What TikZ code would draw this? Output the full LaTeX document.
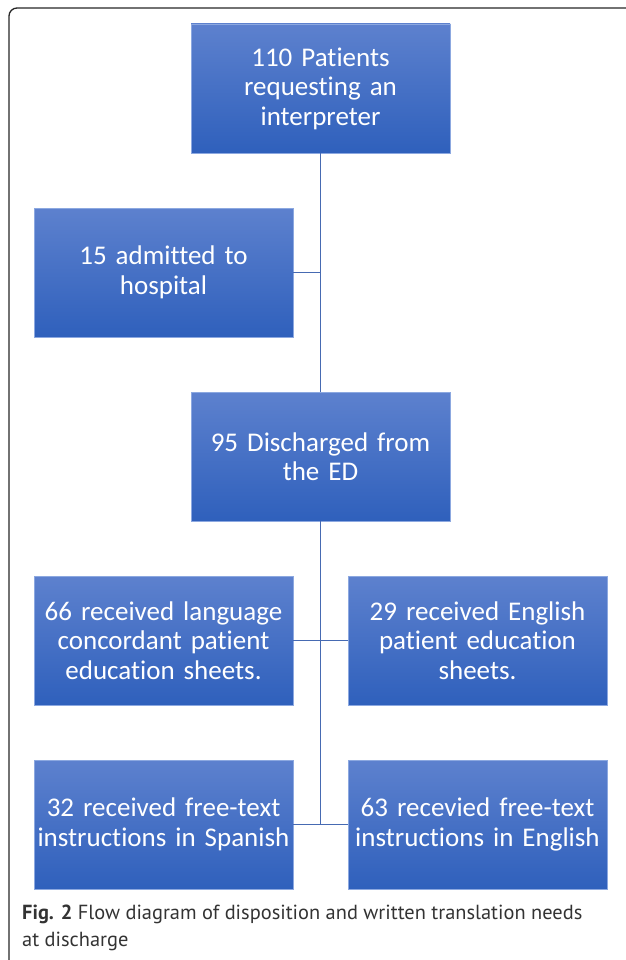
\documentclass[tikz,border=0pt]{standalone}
\usepackage{fontspec}
\setmainfont{Carlito}[RawFeature={-liga,-calt,-dlig}]
\newfontfamily\capfont{PT Sans}
\usepackage{tikz}
\usetikzlibrary{positioning}
\usetikzlibrary{calc}
\definecolor{boxtop}{RGB}{93,129,206}
\definecolor{boxbot}{RGB}{47,96,188}
\definecolor{boxline}{RGB}{140,168,224}
\definecolor{linkblue}{RGB}{70,106,178}
\tikzstyle{box}=
[rectangle,
minimum width=259pt,
minimum height=129pt,
text width=255pt,
inner sep=0pt,
outer sep=0pt,
align=center,
top color=boxtop,
bottom color=boxbot,
draw=boxline,
line width=0.4pt,
text=white,
font=\fontsize{27pt}{29.5pt}\selectfont]
\tikzstyle{link}=
[linkblue,line width=1.8pt]

\begin{document}
\begin{tikzpicture}[node distance=184pt]
\useasboundingbox (0,0) rectangle (625pt,-960pt);
\draw[black!85,line width=1.3pt,rounded corners=8pt]
(9pt,-960pt)--(9pt,-8pt)--(626pt,-8pt);
\node (A) [box] at (320.5pt,-88.5pt)
{110 Patients\\requesting an\\interpreter};
\node (B)
[box,
below of=A,
xshift=-157pt]
{15 admitted to\\hospital};
\node (C)
[box,
below of=B,
xshift=157pt]
{95 Discharged from\\the ED};
\draw[link](A.south)--(C.north);
\draw[link](B.east)--(B.east-|A.south);
\node (D_1)
[box,
below of=C,
xshift=-157pt]
{66 received language\\concordant patient\\education sheets.};
\node (D_2)
[box,
below of=C,
xshift=157pt]
{29 received English\\patient education\\sheets.};
\node (E_1)
[box,
below of=D_1]
{32 received free-text\\instructions in Spanish};
\node (E_2)
[box,
below of=D_2]
{63 recevied free-text\\instructions in English};
\draw[link](C.south)--(E_1.east-|C.south);
\draw[link](D_1.east)--(D_2.west);
\draw[link](E_1.east)--(E_2.west);
% caption
\node (cap)
[anchor=north west,
inner sep=0pt,
align=left,
text=black!80,
font=\capfont\fontsize{20.4pt}{27pt}\selectfont]
at (22pt,-905pt)
{\textbf{Fig. 2} Flow diagram of disposition and written translation needs\\at discharge};
\end{tikzpicture}
\end{document}
